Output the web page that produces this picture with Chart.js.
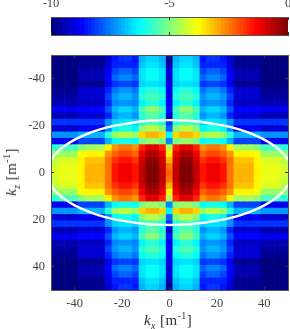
<!DOCTYPE html>
<html>
<head>
<meta charset="utf-8">
<script src="https://cdn.jsdelivr.net/npm/chart.js@4"></script>
<style>
  html, body { margin: 0; padding: 0; background: #fff; }
  #wrap { position: relative; width: 290px; height: 329px; overflow: hidden; font-family: "Liberation Serif", serif; color: #333; }
  canvas { position: absolute; left: 0; top: 0; }
  .lab { position: absolute; font-size: 15px; letter-spacing: 0.4px; white-space: nowrap; line-height: 16px; }
  .lab i { font-style: italic; }
  .lab sub, .lab sup { font-size: 10px; line-height: 0; }
  #xlab { left: 144px; top: 312px; }
  #ylab { left: 11px; top: 172px; transform: translate(-50%, -50%) rotate(-90deg); }
</style>
</head>
<body>
<div id="wrap">
  <canvas id="myChart" width="290" height="329"></canvas>
  <canvas id="myBar" width="290" height="50"></canvas>
  <div class="lab" id="xlab"><i>k<sub>x</sub></i> [m<sup>-1</sup>]</div>
  <div class="lab" id="ylab"><i>k<sub>z</sub></i> [m<sup>-1</sup>]</div>
</div>
<script>
const kx = [-48.57,-45.71,-42.86,-40,-37.14,-34.29,-31.43,-28.57,-25.71,-22.86,-20,-17.14,-14.29,-11.43,-8.57,-5.71,-2.86,0,2.86,5.71,8.57,11.43,14.29,17.14,20,22.86,25.71,28.57,31.43,34.29,37.14,40,42.86,45.71,48.57]
const kz = [-48.65,-45.95,-43.24,-40.54,-37.84,-35.14,-32.43,-29.73,-27.03,-24.32,-21.62,-18.92,-16.22,-13.51,-10.81,-8.11,-5.41,-2.7,0,2.7,5.41,8.11,10.81,13.51,16.22,18.92,21.62,24.32,27.03,29.73,32.43,35.14,37.84,40.54,43.24,45.95,48.65]
const axisTicks = [-40,-20,0,20,40]
const barTicks = [-10,-5,0]

// log10 power, one row per kz
const power = [
[-10,-10,-10,-10,-9.7,-9.7,-9.7,-9.7,-9.1,-8.5,-8.2,-8.2,-8.5,-7,-6.6,-6.6,-7,-9.7,-7,-6.6,-6.6,-7,-8.5,-8.2,-8.2,-8.5,-9.1,-9.7,-9.7,-9.7,-9.7,-10,-10,-10,-10],
[-10,-10,-10,-10,-9.8,-9.8,-9.8,-9.8,-9,-8.4,-8.3,-8.3,-8.4,-6.8,-6.5,-6.5,-6.8,-9.5,-6.8,-6.5,-6.5,-6.8,-8.4,-8.3,-8.3,-8.4,-9,-9.8,-9.8,-9.8,-9.8,-10,-10,-10,-10],
[-10,-10,-10,-10,-9.5,-9.5,-9.5,-9.5,-8.9,-8,-7.8,-7.8,-8,-6.5,-6.25,-6.25,-6.5,-9,-6.5,-6.25,-6.25,-6.5,-8,-7.8,-7.8,-8,-8.9,-9.5,-9.5,-9.5,-9.5,-10,-10,-10,-10],
[-9.9,-9.9,-9.9,-9.9,-9.4,-9.4,-9.4,-9.4,-8.7,-7.8,-7.5,-7.5,-7.8,-6.5,-6.2,-6.2,-6.5,-9.2,-6.5,-6.2,-6.2,-6.5,-7.8,-7.5,-7.5,-7.8,-8.7,-9.4,-9.4,-9.4,-9.4,-9.9,-9.9,-9.9,-9.9],
[-9.9,-9.9,-9.9,-9.9,-9.7,-9.7,-9.7,-9.7,-8.9,-8.2,-8,-8,-8.2,-6.7,-6.5,-6.5,-6.7,-9,-6.7,-6.5,-6.5,-6.7,-8.2,-8,-8,-8.2,-8.9,-9.7,-9.7,-9.7,-9.7,-9.9,-9.9,-9.9,-9.9],
[-9.8,-9.8,-9.8,-9.8,-9.2,-9.2,-9.2,-9.2,-8.3,-7.6,-7.3,-7.3,-7.6,-6.2,-5.9,-5.9,-6.2,-8.9,-6.2,-5.9,-5.9,-6.2,-7.6,-7.3,-7.3,-7.6,-8.3,-9.2,-9.2,-9.2,-9.2,-9.8,-9.8,-9.8,-9.8],
[-9.6,-9.6,-9.6,-9.6,-9.2,-9.2,-9.2,-9.2,-8.1,-7.2,-6.9,-6.9,-7.2,-5.9,-5.6,-5.6,-5.9,-8.8,-5.9,-5.6,-5.6,-5.9,-7.2,-6.9,-6.9,-7.2,-8.1,-9.2,-9.2,-9.2,-9.2,-9.6,-9.6,-9.6,-9.6],
[-9.5,-9.5,-9.5,-9.5,-9.3,-9.3,-9.3,-9.3,-8.4,-7.5,-7.2,-7.2,-7.5,-6.3,-5.9,-5.9,-6.3,-8.8,-6.3,-5.9,-5.9,-6.3,-7.5,-7.2,-7.2,-7.5,-8.4,-9.3,-9.3,-9.3,-9.3,-9.5,-9.5,-9.5,-9.5],
[-8.8,-8.8,-8.8,-8.8,-8.7,-8.7,-8.7,-8.7,-7.9,-6.9,-6.6,-6.6,-6.9,-5.5,-5,-5,-5.5,-8.5,-5.5,-5,-5,-5.5,-6.9,-6.6,-6.6,-6.9,-7.9,-8.7,-8.7,-8.7,-8.7,-8.8,-8.8,-8.8,-8.8],
[-9.4,-9.4,-9.4,-9.4,-9.2,-9.2,-9.2,-9.2,-8.3,-7.3,-7,-7,-7.3,-5.9,-5.4,-5.4,-5.9,-9.2,-5.9,-5.4,-5.4,-5.9,-7.3,-7,-7,-7.3,-8.3,-9.2,-9.2,-9.2,-9.2,-9.4,-9.4,-9.4,-9.4],
[-8.2,-8.2,-8.2,-8.2,-8.2,-8.2,-8.2,-8.2,-7.3,-6.7,-6.5,-6.5,-6.7,-5.9,-5.5,-5.5,-5.9,-8.2,-5.9,-5.5,-5.5,-5.9,-6.7,-6.5,-6.5,-6.7,-7.3,-8.2,-8.2,-8.2,-8.2,-8.2,-8.2,-8.2,-8.2],
[-9.1,-9.1,-9.1,-9.1,-8.8,-8.8,-8.8,-8.8,-7.4,-6.3,-6,-6,-6.3,-4.9,-4.4,-4.4,-4.9,-7.8,-4.9,-4.4,-4.4,-4.9,-6.3,-6,-6,-6.3,-7.4,-8.8,-8.8,-8.8,-8.8,-9.1,-9.1,-9.1,-9.1],
[-7.2,-7.2,-7.2,-7.2,-7,-7,-7,-7,-5.9,-4.7,-4.5,-4.5,-4.7,-3.4,-3.1,-3.1,-3.4,-6.4,-3.4,-3.1,-3.1,-3.4,-4.7,-4.5,-4.5,-4.7,-5.9,-7,-7,-7,-7,-7.2,-7.2,-7.2,-7.2],
[-8.8,-8.8,-8.8,-8.8,-8,-8,-8,-8,-7,-6.2,-6,-6,-6.2,-5.1,-4.7,-4.7,-5.1,-7.5,-5.1,-4.7,-4.7,-5.1,-6.2,-6,-6,-6.2,-7,-8,-8,-8,-8,-8.8,-8.8,-8.8,-8.8],
[-5.8,-5.6,-5.6,-5.6,-5,-4.6,-4.6,-4.6,-3.7,-2.8,-2.5,-2.5,-2.8,-1.6,-1,-1,-1.6,-4.4,-1.6,-1,-1,-1.6,-2.8,-2.5,-2.5,-2.8,-3.7,-4.6,-4.6,-4.6,-5,-5.6,-5.6,-5.6,-5.8],
[-4.9,-4.7,-4.7,-4.7,-3.9,-3.7,-3.7,-3.7,-2.8,-2.3,-2,-2,-2.3,-1.2,-0.6,-0.6,-1.2,-3.6,-1.2,-0.6,-0.6,-1.2,-2.3,-2,-2,-2.3,-2.8,-3.7,-3.7,-3.7,-3.9,-4.7,-4.7,-4.7,-4.9],
[-4.5,-4.2,-4.2,-4.2,-3.7,-3.2,-3.2,-3.2,-2.5,-1.8,-1.5,-1.5,-1.8,-0.8,-0.2,-0.2,-0.8,-3,-0.8,-0.2,-0.2,-0.8,-1.8,-1.5,-1.5,-1.8,-2.5,-3.2,-3.2,-3.2,-3.7,-4.2,-4.2,-4.2,-4.5],
[-4.3,-4,-4,-4,-3.6,-3.1,-3.1,-3.1,-2.4,-1.5,-1.2,-1.2,-1.5,-0.7,-0.1,-0.1,-0.7,-2.4,-0.7,-0.1,-0.1,-0.7,-1.5,-1.2,-1.2,-1.5,-2.4,-3.1,-3.1,-3.1,-3.6,-4,-4,-4,-4.3],
[-4.2,-4,-4,-4,-3.6,-3.1,-3.1,-3.1,-2.4,-1.5,-1.2,-1.2,-1.5,-0.7,-0.1,-0.1,-0.7,-2.2,-0.7,-0.1,-0.1,-0.7,-1.5,-1.2,-1.2,-1.5,-2.4,-3.1,-3.1,-3.1,-3.6,-4,-4,-4,-4.2],
[-4.3,-4,-4,-4,-3.6,-3.1,-3.1,-3.1,-2.4,-1.5,-1.2,-1.2,-1.5,-0.7,-0.1,-0.1,-0.7,-2.4,-0.7,-0.1,-0.1,-0.7,-1.5,-1.2,-1.2,-1.5,-2.4,-3.1,-3.1,-3.1,-3.6,-4,-4,-4,-4.3],
[-4.5,-4.2,-4.2,-4.2,-3.7,-3.2,-3.2,-3.2,-2.5,-1.8,-1.5,-1.5,-1.8,-0.8,-0.2,-0.2,-0.8,-3,-0.8,-0.2,-0.2,-0.8,-1.8,-1.5,-1.5,-1.8,-2.5,-3.2,-3.2,-3.2,-3.7,-4.2,-4.2,-4.2,-4.5],
[-4.9,-4.7,-4.7,-4.7,-3.9,-3.7,-3.7,-3.7,-2.8,-2.3,-2,-2,-2.3,-1.2,-0.6,-0.6,-1.2,-3.6,-1.2,-0.6,-0.6,-1.2,-2.3,-2,-2,-2.3,-2.8,-3.7,-3.7,-3.7,-3.9,-4.7,-4.7,-4.7,-4.9],
[-5.8,-5.6,-5.6,-5.6,-5,-4.6,-4.6,-4.6,-3.7,-2.8,-2.5,-2.5,-2.8,-1.6,-1,-1,-1.6,-4.4,-1.6,-1,-1,-1.6,-2.8,-2.5,-2.5,-2.8,-3.7,-4.6,-4.6,-4.6,-5,-5.6,-5.6,-5.6,-5.8],
[-8.8,-8.8,-8.8,-8.8,-8,-8,-8,-8,-7,-6.2,-6,-6,-6.2,-5.1,-4.7,-4.7,-5.1,-7.5,-5.1,-4.7,-4.7,-5.1,-6.2,-6,-6,-6.2,-7,-8,-8,-8,-8,-8.8,-8.8,-8.8,-8.8],
[-7.2,-7.2,-7.2,-7.2,-7,-7,-7,-7,-5.9,-4.7,-4.5,-4.5,-4.7,-3.4,-3.1,-3.1,-3.4,-6.4,-3.4,-3.1,-3.1,-3.4,-4.7,-4.5,-4.5,-4.7,-5.9,-7,-7,-7,-7,-7.2,-7.2,-7.2,-7.2],
[-9.1,-9.1,-9.1,-9.1,-8.8,-8.8,-8.8,-8.8,-7.4,-6.3,-6,-6,-6.3,-4.9,-4.4,-4.4,-4.9,-7.8,-4.9,-4.4,-4.4,-4.9,-6.3,-6,-6,-6.3,-7.4,-8.8,-8.8,-8.8,-8.8,-9.1,-9.1,-9.1,-9.1],
[-8.2,-8.2,-8.2,-8.2,-8.2,-8.2,-8.2,-8.2,-7.3,-6.7,-6.5,-6.5,-6.7,-5.9,-5.5,-5.5,-5.9,-8.2,-5.9,-5.5,-5.5,-5.9,-6.7,-6.5,-6.5,-6.7,-7.3,-8.2,-8.2,-8.2,-8.2,-8.2,-8.2,-8.2,-8.2],
[-9.4,-9.4,-9.4,-9.4,-9.2,-9.2,-9.2,-9.2,-8.3,-7.3,-7,-7,-7.3,-5.9,-5.4,-5.4,-5.9,-9.2,-5.9,-5.4,-5.4,-5.9,-7.3,-7,-7,-7.3,-8.3,-9.2,-9.2,-9.2,-9.2,-9.4,-9.4,-9.4,-9.4],
[-8.8,-8.8,-8.8,-8.8,-8.7,-8.7,-8.7,-8.7,-7.9,-6.9,-6.6,-6.6,-6.9,-5.5,-5,-5,-5.5,-8.5,-5.5,-5,-5,-5.5,-6.9,-6.6,-6.6,-6.9,-7.9,-8.7,-8.7,-8.7,-8.7,-8.8,-8.8,-8.8,-8.8],
[-9.5,-9.5,-9.5,-9.5,-9.3,-9.3,-9.3,-9.3,-8.4,-7.5,-7.2,-7.2,-7.5,-6.3,-5.9,-5.9,-6.3,-8.8,-6.3,-5.9,-5.9,-6.3,-7.5,-7.2,-7.2,-7.5,-8.4,-9.3,-9.3,-9.3,-9.3,-9.5,-9.5,-9.5,-9.5],
[-9.6,-9.6,-9.6,-9.6,-9.2,-9.2,-9.2,-9.2,-8.1,-7.2,-6.9,-6.9,-7.2,-5.9,-5.6,-5.6,-5.9,-8.8,-5.9,-5.6,-5.6,-5.9,-7.2,-6.9,-6.9,-7.2,-8.1,-9.2,-9.2,-9.2,-9.2,-9.6,-9.6,-9.6,-9.6],
[-9.8,-9.8,-9.8,-9.8,-9.2,-9.2,-9.2,-9.2,-8.3,-7.6,-7.3,-7.3,-7.6,-6.2,-5.9,-5.9,-6.2,-8.9,-6.2,-5.9,-5.9,-6.2,-7.6,-7.3,-7.3,-7.6,-8.3,-9.2,-9.2,-9.2,-9.2,-9.8,-9.8,-9.8,-9.8],
[-9.9,-9.9,-9.9,-9.9,-9.7,-9.7,-9.7,-9.7,-8.9,-8.2,-8,-8,-8.2,-6.7,-6.5,-6.5,-6.7,-9,-6.7,-6.5,-6.5,-6.7,-8.2,-8,-8,-8.2,-8.9,-9.7,-9.7,-9.7,-9.7,-9.9,-9.9,-9.9,-9.9],
[-9.9,-9.9,-9.9,-9.9,-9.4,-9.4,-9.4,-9.4,-8.7,-7.8,-7.5,-7.5,-7.8,-6.5,-6.2,-6.2,-6.5,-9.2,-6.5,-6.2,-6.2,-6.5,-7.8,-7.5,-7.5,-7.8,-8.7,-9.4,-9.4,-9.4,-9.4,-9.9,-9.9,-9.9,-9.9],
[-10,-10,-10,-10,-9.5,-9.5,-9.5,-9.5,-8.9,-8,-7.8,-7.8,-8,-6.5,-6.25,-6.25,-6.5,-9,-6.5,-6.25,-6.25,-6.5,-8,-7.8,-7.8,-8,-8.9,-9.5,-9.5,-9.5,-9.5,-10,-10,-10,-10],
[-10,-10,-10,-10,-9.8,-9.8,-9.8,-9.8,-9,-8.4,-8.3,-8.3,-8.4,-6.8,-6.5,-6.5,-6.8,-9.5,-6.8,-6.5,-6.5,-6.8,-8.4,-8.3,-8.3,-8.4,-9,-9.8,-9.8,-9.8,-9.8,-10,-10,-10,-10],
[-10,-10,-10,-10,-9.7,-9.7,-9.7,-9.7,-9.1,-8.5,-8.2,-8.2,-8.5,-7,-6.6,-6.6,-7,-9.7,-7,-6.6,-6.6,-7,-8.5,-8.2,-8.2,-8.5,-9.1,-9.7,-9.7,-9.7,-9.7,-10,-10,-10,-10]
]

// white ellipse, top and bottom halves
const ellipseKx = [-51.4,-50,-48,-45,-40,-35,-30,-25,-20,-15,-10,-5,0,5,10,15,20,25,30,35,40,45,48,50,51.4]
const ellipseTop = [0,-5.2,-8,-10.8,-14,-16.3,-18.1,-19.5,-20.5,-21.3,-21.9,-22.2,-22.3,-22.2,-21.9,-21.3,-20.5,-19.5,-18.1,-16.3,-14,-10.8,-8,-5.2,0]
const ellipseBottom = [0,5.2,8,10.8,14,16.3,18.1,19.5,20.5,21.3,21.9,22.2,22.3,22.2,21.9,21.3,20.5,19.5,18.1,16.3,14,10.8,8,5.2,0]

const levels = 64
const frame = '#555'

function jet(v){
    let i = Math.floor((v + 10) / 10 * levels)
    i = Math.max(0, Math.min(levels - 1, i))
    const t = i / (levels - 1)
    const c = o => Math.round(255 * Math.max(0, Math.min(1, 1.5 - Math.abs(4 * t - o))))
    return `rgb(${c(3)},${c(2)},${c(1)})`
}

function fixAxis(w, h){
    return scale => {
        if (w !== null) scale.width = w
        if (h !== null) scale.height = h
        scale.paddingLeft = scale.paddingRight = scale.paddingTop = scale.paddingBottom = 0
    }
}

function axis(position, min, max, ticks, opts){
    return Object.assign({
        type: 'linear',
        position: position,
        min: min,
        max: max,
        offset: false,
        afterBuildTicks: a => { a.ticks = ticks.map(v => ({value: v})) },
        grid: {offset: false, drawOnChartArea: false, drawTicks: true, tickLength: -3, color: '#333', z: 3},
        border: {display: true, color: frame, width: 1, z: 3},
        ticks: {
            display: true,
            autoSkip: false,
            maxRotation: 0,
            color: '#444',
            padding: 9,
            font: {family: 'Liberation Serif', size: 12.5},
            callback: v => String(v)
        }
    }, opts)
}

function noLabels(a){
    a.ticks.display = false
    return a
}

const datasets = power.map((row, r) => ({
    type: 'bar',
    order: 2,
    grouped: false,
    barPercentage: 1,
    categoryPercentage: 1,
    backgroundColor: row.map(jet),
    data: row.map((v, c) => ({x: kx[c], y: [kz[r] - 1.36, kz[r] + 1.36]}))
}))

;[ellipseTop, ellipseBottom].forEach(half => {
    datasets.push({
        type: 'line',
        order: 1,
        borderColor: '#fff',
        borderWidth: 2.4,
        pointRadius: 0,
        tension: 0.4,
        data: half.map((z, i) => ({x: ellipseKx[i], y: z}))
    })
})

new Chart(document.getElementById('myChart').getContext('2d'), {
    data: {datasets: datasets},
    options: {
        responsive: false,
        animation: false,
        layout: {padding: {left: 0, right: 2, top: 55, bottom: 0}},
        plugins: {legend: {display: false}, tooltip: {enabled: false}},
        scales: {
            x: axis('bottom', -50, 50, axisTicks, {afterFit: fixAxis(null, 39)}),
            y: axis('left', -50, 50, axisTicks, {reverse: true, afterFit: fixAxis(51, null)}),
            x2: noLabels(axis('top', -50, 50, axisTicks, {afterFit: fixAxis(null, 0)})),
            y2: noLabels(axis('right', -50, 50, axisTicks, {reverse: true, afterFit: fixAxis(0, null)}))
        }
    }
})

// colour bar
const barValues = []
for (let i = 0; i < levels; i++) barValues.push(-10 + (i + 0.5) * 10 / levels)

new Chart(document.getElementById('myBar').getContext('2d'), {
    data: {
        datasets: [{
            type: 'bar',
            barPercentage: 1,
            categoryPercentage: 1,
            backgroundColor: barValues.map(jet),
            data: barValues.map(v => ({x: v, y: [0, 1]}))
        }]
    },
    options: {
        responsive: false,
        animation: false,
        layout: {padding: {left: 51, right: 2, top: 0, bottom: 15}},
        plugins: {legend: {display: false}, tooltip: {enabled: false}},
        scales: {
            x: axis('top', -10, 0, barTicks, {afterFit: fixAxis(null, 17)}),
            x2: noLabels(axis('bottom', -10, 0, barTicks, {afterFit: fixAxis(null, 0)})),
            y: {type: 'linear', min: 0, max: 1, display: false}
        }
    }
})
</script>
</body>
</html>
